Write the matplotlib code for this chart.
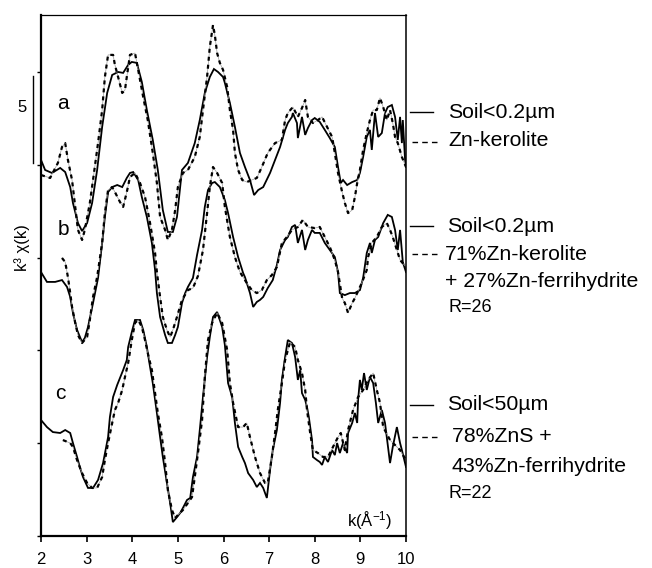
import matplotlib
matplotlib.use("Agg")
import matplotlib.pyplot as plt
from matplotlib.lines import Line2D
import matplotlib.transforms as mtransforms

plt.rcParams['font.family'] = ['Liberation Sans', 'DejaVu Sans']
plt.rcParams['mathtext.fontset'] = 'custom'
plt.rcParams['mathtext.rm'] = 'Liberation Sans'
plt.rcParams['mathtext.it'] = 'Liberation Sans:italic'

# ---------------- data (k in 1/Angstrom, offset k^3 chi) ----------------
k_a_soil = [2.00, 2.09, 2.24, 2.42, 2.53, 2.64, 2.70, 2.81, 2.90, 3.01, 3.12, 3.23, 3.34, 3.45, 3.56,
            3.69, 3.80, 3.91, 3.99, 4.10, 4.21, 4.32, 4.45, 4.56, 4.67, 4.78, 4.89, 4.98, 5.09, 5.22,
            5.37, 5.48, 5.59, 5.70, 5.79, 5.88, 5.99, 6.03, 6.14, 6.25, 6.36, 6.47, 6.58, 6.67, 6.76,
            6.87, 7.02, 7.13, 7.24, 7.35, 7.41, 7.50, 7.52, 7.61, 7.63, 7.72, 7.79, 7.85, 7.94, 8.00,
            8.11, 8.22, 8.33, 8.44, 8.51, 8.57, 8.62, 8.71, 8.82, 8.93, 8.99, 9.06, 9.14, 9.21, 9.25,
            9.32, 9.39, 9.47, 9.54, 9.60, 9.69, 9.76, 9.82, 9.87, 9.91, 9.93, 9.98, 10.0]
chi_a_soil = [20.26, 19.72, 19.56, 19.83, 19.61, 18.80, 17.94, 16.86, 16.43, 16.86, 17.94, 19.72, 22.04, 23.87, 24.84,
              25.00, 24.95, 25.38, 25.54, 25.49, 24.46, 22.95, 21.34, 19.72, 17.56, 16.38, 16.38, 17.19, 19.72, 20.10,
              21.17, 22.41, 23.87, 24.73, 25.16, 25.00, 24.73, 24.41, 23.33, 22.04, 20.64, 19.88, 19.18, 18.37, 18.64,
              18.80, 19.56, 20.26, 20.96, 21.88, 22.25, 22.58, 22.79, 22.25, 21.44, 22.58, 21.61, 21.98, 22.41, 22.52,
              22.31, 21.88, 21.44, 20.96, 19.88, 19.02, 19.18, 18.91, 19.07, 19.18, 19.56, 20.42, 21.50, 21.88, 20.80,
              22.79, 21.50, 21.71, 22.79, 23.11, 23.22, 22.58, 21.34, 22.58, 21.17, 22.41, 20.26, 19.88]

k_a_fit = [2.00, 2.20, 2.37, 2.46, 2.53, 2.59, 2.68, 2.75, 2.81, 2.90, 2.96, 3.07, 3.14, 3.25, 3.34,
           3.40, 3.47, 3.58, 3.62, 3.69, 3.78, 3.84, 3.88, 3.95, 4.06, 4.13, 4.24, 4.34, 4.45, 4.54,
           4.61, 4.72, 4.78, 4.87, 4.94, 5.00, 5.11, 5.22, 5.37, 5.48, 5.55, 5.64, 5.70, 5.77, 5.81,
           5.86, 5.92, 5.99, 6.08, 6.14, 6.21, 6.25, 6.32, 6.41, 6.51, 6.62, 6.73, 6.84, 6.97, 7.13,
           7.28, 7.35, 7.41, 7.52, 7.63, 7.72, 7.79, 7.85, 7.96, 8.07, 8.16, 8.27, 8.38, 8.44, 8.51,
           8.60, 8.66, 8.73, 8.82, 8.88, 8.93, 8.99, 9.06, 9.14, 9.21, 9.28, 9.36, 9.43, 9.50, 9.58,
           9.65, 9.71, 9.76, 9.82, 9.91, 10.0]
chi_a_fit = [19.45, 19.29, 20.10, 20.96, 21.17, 20.26, 19.18, 17.73, 16.49, 15.95, 16.49, 17.94, 19.18, 21.17, 22.95,
             24.73, 25.92, 25.92, 25.38, 24.73, 23.87, 24.03, 24.73, 25.92, 26.02, 25.11, 23.65, 22.41, 20.64, 19.02,
             17.19, 16.49, 15.95, 16.49, 17.56, 18.80, 19.56, 19.72, 20.42, 21.50, 22.95, 24.73, 26.35, 27.53, 26.99,
             26.02, 25.49, 25.11, 24.19, 22.95, 21.88, 20.64, 19.72, 19.18, 19.07, 19.18, 19.29, 19.88, 20.64, 21.17,
             21.34, 22.41, 22.79, 23.11, 22.58, 23.06, 23.49, 22.58, 22.25, 22.41, 22.58, 22.04, 21.50, 20.64, 19.56,
             18.53, 17.94, 17.40, 17.56, 18.26, 19.02, 19.72, 20.80, 21.71, 22.41, 22.95, 22.95, 23.60, 23.11, 22.41,
             22.95, 22.25, 21.50, 21.17, 20.42, 19.88]

k_b_soil = [2.00, 2.13, 2.31, 2.46, 2.57, 2.64, 2.70, 2.79, 2.90, 2.96, 3.03, 3.14, 3.25, 3.34, 3.40,
            3.47, 3.56, 3.67, 3.78, 3.88, 3.95, 4.02, 4.13, 4.21, 4.32, 4.43, 4.50, 4.54, 4.61, 4.72,
            4.78, 4.87, 4.94, 5.00, 5.09, 5.16, 5.22, 5.33, 5.42, 5.53, 5.59, 5.66, 5.75, 5.81, 5.92,
            6.03, 6.10, 6.21, 6.32, 6.43, 6.47, 6.58, 6.65, 6.73, 6.80, 6.87, 6.97, 7.08, 7.17, 7.24,
            7.35, 7.41, 7.50, 7.57, 7.63, 7.72, 7.79, 7.85, 7.94, 8.00, 8.11, 8.22, 8.33, 8.44, 8.51,
            8.55, 8.66, 8.77, 8.88, 8.99, 9.06, 9.14, 9.21, 9.25, 9.32, 9.39, 9.50, 9.60, 9.69, 9.76,
            9.82, 9.87, 9.93, 10.0]
chi_b_soil = [14.22, 13.69, 13.69, 13.79, 13.42, 12.88, 12.02, 11.10, 10.45, 10.67, 11.26, 12.55, 13.90, 15.79, 17.19,
              18.53, 18.80, 18.91, 18.80, 19.29, 19.56, 19.61, 19.18, 18.26, 17.19, 15.79, 14.33, 13.09, 11.80, 10.83,
              10.40, 10.40, 10.83, 11.26, 12.55, 13.09, 13.42, 13.90, 15.14, 16.49, 17.73, 18.64, 19.02, 19.07, 18.80,
              18.10, 17.40, 16.11, 15.03, 14.17, 13.95, 13.09, 12.34, 12.61, 12.72, 12.88, 13.36, 13.79, 14.60, 15.41,
              15.95, 16.11, 16.65, 16.76, 15.79, 16.49, 15.41, 15.95, 16.49, 16.33, 16.33, 15.79, 15.41, 15.03, 14.22,
              13.09, 12.98, 13.09, 13.09, 13.25, 13.90, 15.25, 15.79, 15.25, 15.95, 16.11, 16.86, 17.30, 17.19, 16.49,
              15.41, 16.49, 14.76, 14.22]

k_b_fit = [2.46, 2.53, 2.59, 2.64, 2.68, 2.75, 2.81, 2.90, 3.01, 3.07, 3.14, 3.23, 3.34, 3.40, 3.47,
           3.56, 3.62, 3.73, 3.80, 3.88, 3.95, 4.06, 4.17, 4.28, 4.39, 4.50, 4.54, 4.61, 4.67, 4.76,
           4.83, 4.89, 4.98, 5.09, 5.22, 5.33, 5.44, 5.55, 5.64, 5.70, 5.77, 5.86, 5.97, 6.03, 6.14,
           6.25, 6.36, 6.51, 6.62, 6.73, 6.84, 6.95, 7.06, 7.17, 7.28, 7.39, 7.50, 7.63, 7.74, 7.85,
           8.00, 8.11, 8.22, 8.33, 8.44, 8.51, 8.60, 8.66, 8.73, 8.82, 8.88, 9.03, 9.14, 9.17, 9.25,
           9.36, 9.47, 9.58, 9.65, 9.71, 9.80, 9.87, 10.0]
chi_b_fit = [14.98, 14.76, 13.95, 13.09, 12.34, 11.48, 10.83, 10.40, 10.72, 11.64, 12.88, 13.95, 15.79, 17.40, 18.64,
             18.80, 18.53, 18.00, 17.73, 18.53, 19.34, 19.56, 19.02, 18.26, 16.86, 15.25, 14.22, 12.88, 11.80, 11.10,
             10.72, 11.10, 11.80, 12.72, 13.25, 13.36, 14.01, 15.41, 17.40, 18.80, 19.88, 19.56, 19.02, 17.73, 16.11,
             15.03, 14.22, 13.63, 13.25, 13.09, 13.25, 13.79, 14.06, 14.49, 15.79, 16.11, 16.49, 16.65, 17.03, 16.65,
             16.59, 16.65, 16.11, 15.57, 14.87, 14.22, 12.82, 12.55, 12.02, 12.55, 12.82, 13.63, 14.33, 15.03, 15.79,
             16.11, 16.65, 16.86, 16.49, 16.11, 15.41, 14.87, 14.49]

k_c_soil = [2.00, 2.13, 2.26, 2.42, 2.53, 2.64, 2.70, 2.79, 2.85, 2.92, 3.03, 3.14, 3.25, 3.36, 3.47,
            3.51, 3.58, 3.67, 3.73, 3.80, 3.88, 3.91, 3.99, 4.06, 4.17, 4.24, 4.32, 4.39, 4.45, 4.54,
            4.61, 4.67, 4.76, 4.83, 4.89, 4.98, 5.05, 5.11, 5.20, 5.27, 5.33, 5.42, 5.48, 5.55, 5.64,
            5.70, 5.77, 5.86, 5.97, 6.03, 6.10, 6.19, 6.25, 6.32, 6.41, 6.47, 6.54, 6.65, 6.73, 6.80,
            6.87, 6.95, 7.02, 7.08, 7.17, 7.24, 7.28, 7.35, 7.41, 7.50, 7.57, 7.63, 7.68, 7.72, 7.79,
            7.83, 7.87, 7.94, 7.96, 8.05, 8.11, 8.16, 8.22, 8.29, 8.38, 8.44, 8.49, 8.55, 8.62, 8.71,
            8.73, 8.82, 8.88, 8.93, 8.95, 8.99, 9.03, 9.08, 9.14, 9.21, 9.28, 9.34, 9.39, 9.47, 9.54,
            9.65, 9.71, 9.80, 9.87, 9.91, 10.0]
chi_c_soil = [6.25, 5.87, 5.60, 5.55, 5.71, 5.55, 5.01, 4.26, 3.72, 3.18, 2.59, 2.59, 3.02, 3.93, 5.33,
              6.41, 7.49, 8.14, 8.51, 8.94, 9.48, 10.18, 10.99, 11.64, 11.64, 11.10, 10.18, 9.11, 8.24, 6.63,
              5.33, 4.26, 2.86, 1.78, 0.75, 1.02, 1.24, 1.51, 1.94, 2.05, 3.18, 4.26, 5.71, 7.49, 9.64,
              10.72, 11.80, 12.07, 11.26, 10.29, 8.24, 7.49, 6.09, 4.80, 4.26, 3.93, 3.39, 3.02, 2.64, 2.86,
              2.59, 2.05, 3.56, 4.63, 5.71, 7.17, 8.41, 9.64, 10.56, 10.40, 9.64, 8.41, 8.94, 7.70, 7.33,
              6.95, 6.41, 5.17, 4.26, 4.09, 3.99, 3.83, 4.26, 3.99, 4.63, 4.36, 5.01, 4.47, 5.01, 4.47,
              5.55, 6.09, 6.63, 6.09, 7.33, 8.41, 7.87, 8.78, 7.87, 8.57, 8.24, 7.17, 6.09, 6.79, 6.09,
              3.93, 4.80, 5.87, 5.01, 4.63, 3.72]

k_c_fit = [2.48, 2.64, 2.70, 2.79, 2.90, 3.01, 3.12, 3.23, 3.34, 3.40, 3.47, 3.56, 3.62, 3.69, 3.78,
           3.84, 3.91, 3.99, 4.06, 4.13, 4.21, 4.28, 4.34, 4.43, 4.50, 4.56, 4.65, 4.72, 4.78, 4.87,
           4.94, 5.00, 5.11, 5.22, 5.31, 5.37, 5.44, 5.53, 5.59, 5.66, 5.75, 5.86, 5.97, 6.08, 6.14,
           6.21, 6.32, 6.43, 6.51, 6.58, 6.69, 6.80, 6.91, 6.97, 7.06, 7.13, 7.19, 7.28, 7.35, 7.46,
           7.57, 7.63, 7.72, 7.79, 7.83, 7.90, 7.96, 8.07, 8.18, 8.29, 8.40, 8.51, 8.57, 8.66, 8.73,
           8.84, 8.95, 9.06, 9.17, 9.28, 9.36, 9.43, 9.50, 9.65, 9.87, 10.0]
chi_c_fit = [5.17, 5.01, 4.80, 4.09, 3.39, 2.86, 2.59, 2.59, 3.18, 4.09, 5.01, 6.09, 6.79, 7.17, 7.87,
             8.57, 9.32, 10.56, 11.48, 11.64, 11.26, 10.56, 9.86, 8.94, 7.70, 6.63, 5.33, 3.93, 2.48, 1.40,
             0.97, 1.13, 1.40, 1.78, 2.10, 3.18, 4.47, 6.25, 8.57, 10.56, 11.48, 12.02, 11.48, 10.02, 8.24,
             7.17, 5.87, 5.87, 6.09, 5.33, 4.26, 3.39, 2.86, 2.86, 4.26, 5.55, 6.79, 8.24, 9.48, 10.45,
             10.18, 9.48, 8.78, 7.87, 6.79, 5.55, 4.63, 4.47, 4.26, 4.26, 4.80, 5.33, 5.55, 4.63, 5.71,
             6.79, 7.49, 7.87, 8.41, 8.78, 7.87, 7.17, 5.87, 5.17, 4.63, 4.09]

curve_letters = ['a', 'b', 'c']
letter_pos = [(2.36, 23.3), (2.36, 16.5), (2.30, 7.7)]
x_ticks = [2, 3, 4, 5, 6, 7, 8, 9, 10]
y_ticks = [0, 5, 10, 15, 20, 25]

legend_text = [
    ('Soil<0.2µm', 'Zn-kerolite', None, None),
    ('Soil<0.2µm', '71%Zn-kerolite', '+ 27%Zn-ferrihydrite', 'R=26'),
    ('Soil<50µm', '78%ZnS +', '43%Zn-ferrihydrite', 'R=22'),
]

# ---------------- figure ----------------
fig = plt.figure(figsize=(6.52, 5.68), dpi=100)
ax = fig.add_axes([0.0629, 0.0563, 0.5598, 0.9173])

solid_kw = dict(color='black', lw=1.3, solid_joinstyle='miter')
dot_kw = dict(color='black', lw=1.6, linestyle=(0, (1.8, 1.8)))

for k, c in [(k_a_soil, chi_a_soil), (k_b_soil, chi_b_soil), (k_c_soil, chi_c_soil)]:
    ax.plot(k, c, **solid_kw)
for k, c in [(k_a_fit, chi_a_fit), (k_b_fit, chi_b_fit), (k_c_fit, chi_c_fit)]:
    ax.plot(k, c, color='#999999', lw=0.5)
    ax.plot(k, c, **dot_kw)

ax.set_xlim(2, 10)
ax.set_ylim(0, 28.07)
ax.set_xticks(x_ticks)
ax.set_yticks(y_ticks)
ax.set_yticklabels([])
ax.tick_params(axis='x', direction='out', length=4.5, width=1.2, pad=7, labelsize=12)
ax.tick_params(axis='y', direction='out', length=2.8, width=1.0)
for side, lw in [('left', 1.6), ('bottom', 1.6), ('top', 0.9), ('right', 1.1)]:
    ax.spines[side].set_linewidth(lw)

for letter, (x, y) in zip(curve_letters, letter_pos):
    ax.text(x, y, letter, fontsize=15, ha='left', va='center')

ax.text(0.962, 0.008, 'k(Å$^{\\mathrm{-1}}$)', transform=ax.transAxes,
        fontsize=12, ha='right', va='bottom')

# y label and scale bar
fig.text(22 / 652, 1 - 248 / 568, 'k³ χ(k)', rotation=90, fontsize=12,
         ha='center', va='center')
trans = mtransforms.blended_transform_factory(fig.transFigure, ax.transData)
ax.add_line(Line2D([33 / 652, 33 / 652], [20.1, 24.8], transform=trans,
                   color='black', lw=1.0, clip_on=False))
fig.text(22 / 652, 1 - 108 / 568, '5', fontsize=12, ha='center', va='center')

# right-hand legend blocks (figure pixel positions)
def fx(px):
    return px / 652

def fy(py):
    return 1 - py / 568

blocks = [
    dict(solid=112, dash=142, t1=(448, 112), t2=(448, 141), t3=None, t4=None),
    dict(solid=226, dash=254, t1=(447, 226), t2=(445, 254), t3=(445, 281), t4=(448, 307)),
    dict(solid=405, dash=437, t1=(447, 404), t2=(452, 437), t3=(452, 466), t4=(448, 493)),
]
for b, texts in zip(blocks, legend_text):
    fig.add_artist(Line2D([fx(410), fx(433)], [fy(b['solid'])] * 2, color='black', lw=1.0))
    fig.add_artist(Line2D([fx(412), fx(438)], [fy(b['dash'])] * 2, color='black', lw=1.0,
                          linestyle=(0, (4, 3))))
    fig.text(fx(b['t1'][0]), fy(b['t1'][1]), texts[0], fontsize=15.3, ha='left', va='center')
    fig.text(fx(b['t2'][0]), fy(b['t2'][1]), texts[1], fontsize=15.3, ha='left', va='center')
    if texts[2]:
        fig.text(fx(b['t3'][0]), fy(b['t3'][1]), texts[2], fontsize=15.3, ha='left', va='center')
    if texts[3]:
        fig.text(fx(b['t4'][0]), fy(b['t4'][1]), texts[3], fontsize=13, ha='left', va='center')

fig.savefig('out.png', dpi=100)
